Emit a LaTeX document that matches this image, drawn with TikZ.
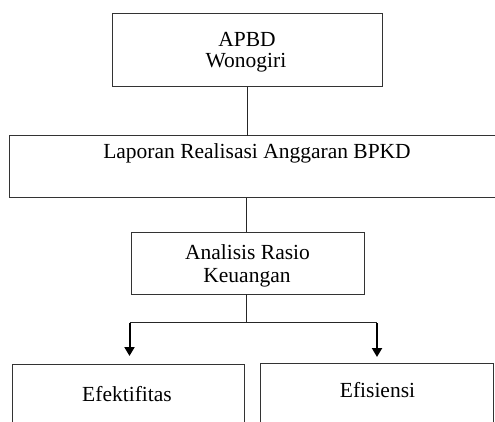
\documentclass[tikz,border=0pt]{standalone}
\usepackage{fontspec}
\setmainfont{Liberation Serif}
\usetikzlibrary{arrows.meta}
\begin{document}
\begin{tikzpicture}[x=1pt,y=-1pt,
  box/.style={draw=black!80, line width=1pt, rectangle, anchor=north west, outer sep=0pt, inner sep=0pt},
  txt/.style={anchor=base, inner sep=0pt, font=\fontsize{21.5}{22.5}\selectfont},
  conn/.style={draw=black!85, line width=1pt},
  arr/.style={draw=black, line width=2pt, -{Triangle[width=10pt,length=9pt]}}]
\clip (0,0) rectangle (495,422);
\fill[white] (0,0) rectangle (495,422);
% boxes
\node[box, minimum width=270pt, minimum height=73pt] (apbd) at (112,14) {};
\node[box, minimum width=500pt, minimum height=62pt] (lap) at (9,136) {};
\node[box, minimum width=233pt, minimum height=62pt] (ana) at (131,232) {};
\node[box, minimum width=232pt, minimum height=80pt] (efk) at (12,364) {};
\node[box, minimum width=233pt, minimum height=80pt] (efs) at (260,363) {};
% texts
\node[txt] (t1) at (247,46.5) {APBD};
\node[txt] (t2) at (246,68) {Wonogiri};
\node[txt] (t3) at (257,159) {Laporan Realisasi Anggaran BPKD};
\node[txt] (t4) at (247.5,259) {Analisis Rasio};
\node[txt] (t5) at (247,282) {Keuangan};
\node[txt] (t6) at (127,401.5) {Efektifitas};
\node[txt] (t7) at (377.5,397.5) {Efisiensi};
% connectors
\coordinate (split) at (246,322.5);
\coordinate (la) at (129.5,356);
\coordinate (ra) at (377,357);
\draw[conn] (apbd.south) -- (apbd.south |- lap.north);
\draw[conn] (split |- lap.south) -- (split |- ana.north);
\draw[conn] (split |- ana.south) -- (split);
\draw[conn] (la |- split) -- (ra |- split);
\draw[arr] ([yshift=-0.5pt]la |- split) -- (la);
\draw[arr] ([yshift=-0.5pt]ra |- split) -- (ra);
\end{tikzpicture}
\end{document}
